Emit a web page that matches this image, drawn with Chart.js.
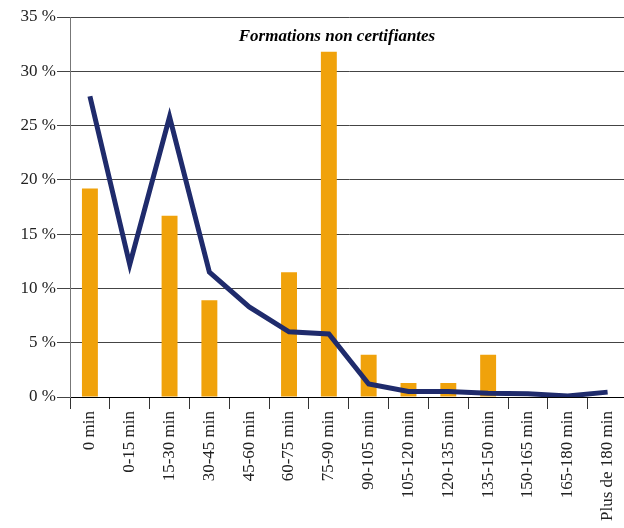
<!DOCTYPE html>
<html>
<head>
<meta charset="utf-8">
<script src="https://cdn.jsdelivr.net/npm/chart.js@4/dist/chart.umd.min.js"></script>
<style>
  html, body { margin: 0; padding: 0; overflow: hidden; background: #fff; }
  #wrap { width: 630px; height: 528px; }
</style>
</head>
<body>
<div id="wrap"><canvas id="c" width="630" height="528" style="width:630px;height:528px"></canvas></div>
<script>
const categories = ["0 min", "0-15 min", "15-30 min", "30-45 min", "45-60 min", "60-75 min", "75-90 min",
  "90-105 min", "105-120 min", "120-135 min", "135-150 min", "150-165 min", "165-180 min", "Plus de 180 min"];
const barValues = [19.2, 0, 16.7, 8.9, 0, 11.5, 31.8, 3.9, 1.3, 1.3, 3.9, 0, 0, 0];
const lineValues = [27.7, 12.2, 25.8, 11.5, 8.3, 6.0, 5.8, 1.2, 0.5, 0.5, 0.35, 0.3, 0.1, 0.45];
const yTicks = [0, 5, 10, 15, 20, 25, 30, 35];
const chartTitle = "Formations non certifiantes";

const serif = "'Liberation Serif', 'DejaVu Serif', serif";

const titlePlugin = {
  id: 'innerTitle',
  afterDraw(chart) {
    const ctx = chart.ctx;
    ctx.save();
    ctx.font = "italic bold 17px " + serif;
    ctx.fillStyle = "#000";
    ctx.textAlign = "center";
    ctx.textBaseline = "middle";
    ctx.fillText(chartTitle, 337, 37);
    ctx.restore();
  }
};

new Chart(document.getElementById('c'), {
  data: {
    labels: categories,
    datasets: [
      {
        type: 'line',
        data: lineValues,
        borderColor: '#1F2B6C',
        borderWidth: 5,
        pointRadius: 0,
        tension: 0,
        fill: false,
        order: 0
      },
      {
        type: 'bar',
        data: barValues,
        backgroundColor: '#F0A20B',
        barPercentage: 0.4,
        categoryPercentage: 1.0,
        order: 1
      }
    ]
  },
  options: {
    responsive: false,
    animation: false,
    layout: { padding: { top: 17, right: 0, left: 0, bottom: 0 } },
    plugins: { legend: { display: false }, tooltip: { enabled: false } },
    scales: {
      x: {
        offset: true,
        grid: {
          offset: true,
          drawOnChartArea: false,
          drawTicks: true,
          tickLength: 12,
          color: '#333'
        },
        border: { display: true, color: '#000', width: 1 },
        ticks: {
          maxRotation: 90,
          minRotation: 90,
          autoSkip: false,
          padding: 2,
          color: '#222',
          font: { family: serif, size: 17 }
        },
        afterFit(s) { s.height = 131; }
      },
      y: {
        min: 0,
        max: 35,
        afterBuildTicks(s) { s.ticks = yTicks.map(v => ({ value: v })); },
        grid: {
          color: '#444',
          lineWidth: 1,
          drawTicks: true,
          tickLength: 13
        },
        border: { display: true, color: '#777', width: 1 },
        ticks: {
          padding: 1,
          color: '#222',
          font: { family: serif, size: 17 },
          callback: v => v + ' %'
        },
        afterFit(s) { s.width = 70; }
      }
    }
  },
  plugins: [titlePlugin]
});
</script>
</body>
</html>
